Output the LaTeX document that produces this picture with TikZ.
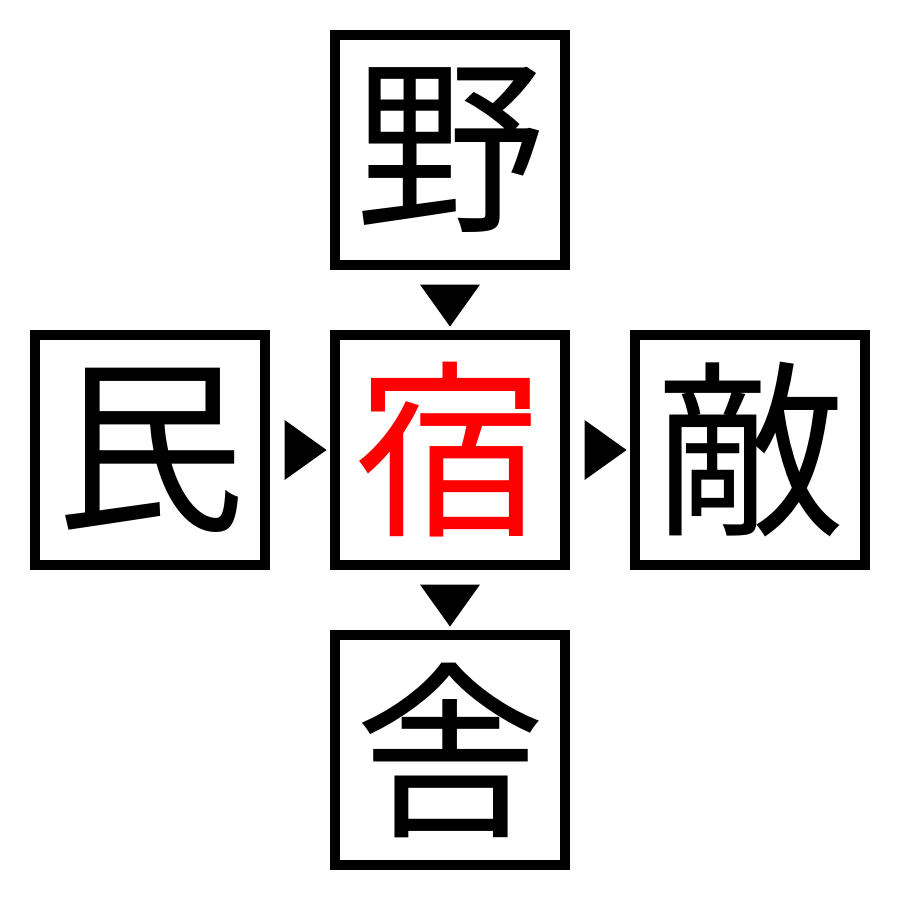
\documentclass[tikz,border=0pt]{standalone}
\usepackage{fontspec}
\newfontfamily\cjk{Noto Sans CJK JP}
\usetikzlibrary{shapes.geometric}
\tikzset{
    kanji/.style={draw, line width=1mm, minimum size=2.3cm, inner sep=0pt, outer sep=0pt,
        font=\cjk\fontsize{54pt}{54pt}\selectfont},
    tip/.style={isosceles triangle, isosceles triangle stretches, fill=black, draw=none,
        inner sep=0pt, outer sep=0pt, minimum width=0.6cm, minimum height=0.42cm}
}
\begin{document}
\begin{tikzpicture}
        \useasboundingbox (0, 0) rectangle (9, 9);

        \node[kanji] (ya) at (4.5, 7.5) {野};
        \node[kanji] (min) at (1.5, 4.5) {民};
        \node[kanji, text=red] (yado) at (4.5, 4.5) {宿};
        \node[kanji] (teki) at (7.5, 4.5) {敵};
        \node[kanji] (sha) at (4.5, 1.5) {舎};

        \path (ya) -- (yado) node[midway, tip, rotate=-90] {};
        \path (min) -- (yado) node[midway, tip] {};
        \path (yado) -- (teki) node[midway, tip] {};
        \path (yado) -- (sha) node[midway, tip, rotate=-90] {};

    \end{tikzpicture}
\end{document}
